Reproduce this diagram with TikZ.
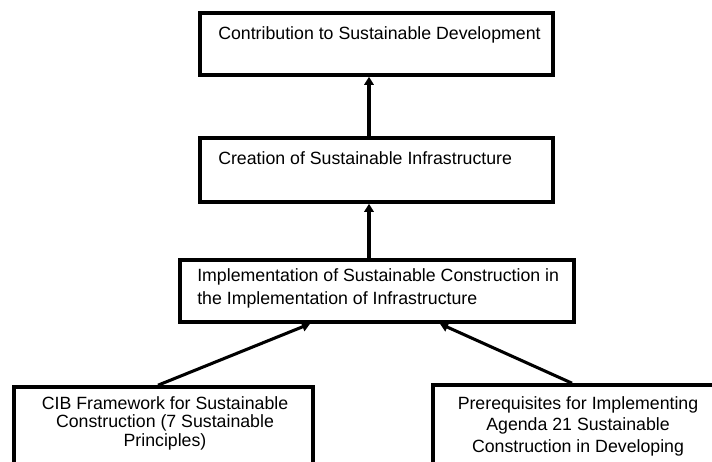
\documentclass[tikz,border=0pt]{standalone}
\usepackage{fontspec}
\setmainfont{Liberation Sans}
\usetikzlibrary{arrows.meta,calc}
\begin{document}
\begin{tikzpicture}[x=0.75pt,y=-0.75pt,
  box/.style={draw, line width=2.7pt, inner sep=0pt, fill=white},
  txt/.style={font=\fontsize{13.3}{16}\selectfont, inner sep=0pt, text=black},
  arr/.style={line width=2.3pt, -{Triangle[length=6pt,width=7pt]}}]
\useasboundingbox (0,0) rectangle (712,461);
\clip (0,0) rectangle (712,461);
\fill[white] (0,0) rectangle (712,461);
% boxes
\node[box, minimum width=353*0.75pt, minimum height=62*0.75pt] (b1) at (376.5,44) {};
\node[box, minimum width=353*0.75pt, minimum height=64*0.75pt] (b2) at (376.5,170) {};
\node[box, minimum width=394*0.75pt, minimum height=62*0.75pt] (b3) at (377,291) {};
\node[box, minimum width=299*0.75pt, minimum height=93*0.75pt] (b4) at (163.5,433.5) {};
\node[box, minimum width=289*0.75pt, minimum height=95*0.75pt] (b5) at (577.5,432.5) {};
% texts
\node[txt, anchor=base west] (t1) at (218,39) {Contribution to Sustainable Development};
\node[txt, anchor=base west] (t2) at (218,164) {Creation of Sustainable Infrastructure};
\node[txt, anchor=north west, align=left, font=\fontsize{13.3}{17.25}\selectfont] (t3) at (197,268)
  {Implementation of Sustainable Construction in\\the Implementation of Infrastructure};
\node[txt, anchor=north, align=center, font=\fontsize{13.3}{13.9}\selectfont] (t4) at (165,396)
  {CIB Framework for Sustainable\\Construction (7 Sustainable\\Principles)};
\node[txt, anchor=north, align=center, font=\fontsize{13.3}{16.3}\selectfont] (t5) at (578,396)
  {Prerequisites for Implementing\\Agenda 21 Sustainable\\Construction in Developing};
% arrows
\draw[arr] ($(b2.north)+(-7.5,0)$) -- ($(b1.south)+(-7.5,0)$);
\draw[arr] ($(b3.north)+(-8,0)$) -- ($(b2.south)+(-7.5,0)$);
\draw[arr] ($(b4.north)+(-5.5,0)$) -- ($(b3.south)+(-67,0)$);
\draw[arr] ($(b5.north)+(-5.5,0)$) -- ($(b3.south)+(63,0)$);
\end{tikzpicture}
\end{document}
